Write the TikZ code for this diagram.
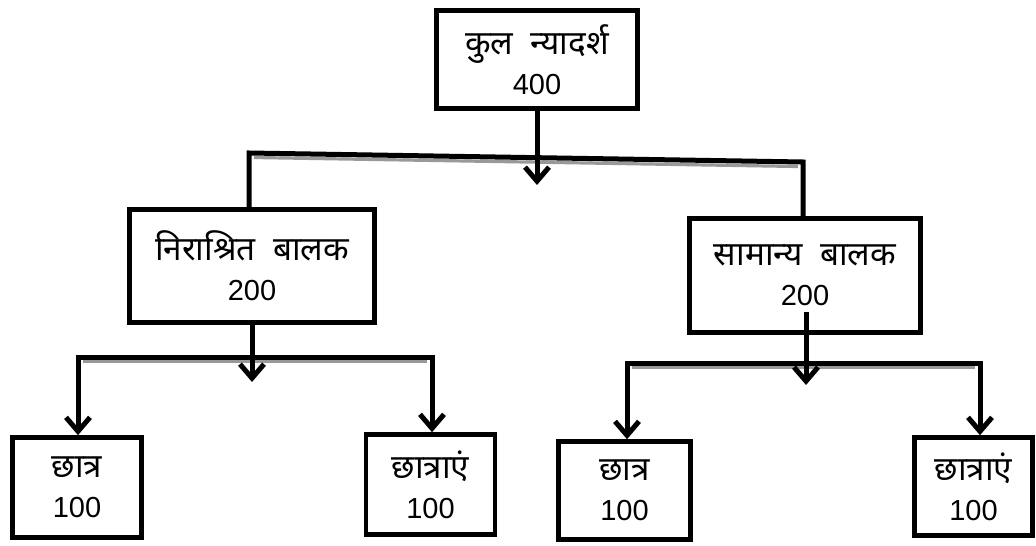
\documentclass[tikz,border=0pt]{standalone}
\usepackage{fontspec}
\setmainfont{Liberation Sans}
\newfontfamily\hindi[Script=Devanagari,Scale=1.15,WordSpace=2]{Noto Sans}
\usetikzlibrary{arrows.meta}

\begin{document}
\begin{tikzpicture}[x=0.5pt,y=-0.5pt,
    >={Straight Barb[length=7pt,width=12pt]},line width=2.5pt,
    box/.style={draw,line width=2.3pt,align=center,inner sep=0pt,
      font=\fontsize{14.5}{20}\selectfont},
    shade/.style={line width=1.6pt,black!40}]

    \useasboundingbox (0,0) rectangle (1036,545);

    % boxes
    \node[box,minimum width=100.5pt,minimum height=49pt]   (top)  at (537,59.5)    {{\hindi कुल न्यादर्श}\\400};
    \node[box,minimum width=122.5pt,minimum height=56.5pt] (lmid) at (252,266)     {{\hindi निराश्रित बालक}\\200};
    \node[box,minimum width=115.5pt,minimum height=57pt]   (rmid) at (805,275.5)   {{\hindi सामान्य बालक}\\200};
    \node[box,minimum width=64.5pt,minimum height=50pt]    (ll)   at (77,487.5)    {{\hindi छात्र}\\100};
    \node[box,minimum width=64.5pt,minimum height=50pt]    (lr)   at (430.5,484.5) {{\hindi छात्राएं}\\100};
    \node[box,minimum width=66pt,minimum height=49pt]      (rl)   at (624.5,490.5) {{\hindi छात्र}\\100};
    \node[box,minimum width=59pt,minimum height=49pt]      (rr)   at (973.5,486.5) {{\hindi छात्राएं}\\100};

    % bar corners
    \coordinate (tbL) at (249,153);
    \coordinate (tbR) at (803,162);
    \coordinate (lbL) at (78,357);
    \coordinate (lbR) at (432,357);
    \coordinate (rbL) at (627,363);
    \coordinate (rbR) at (980,363);
    \coordinate (rmidout) at (806,312);

    % shadows under bars
    \draw[shade] (254,157.5) -- (798,166.5);
    \draw[shade] (83,361.5) -- (427,361.5);
    \draw[shade] (632,367.5) -- (975,367.5);

    % bars
    \draw (tbL |- lmid.north) -- (tbL) -- (tbR) -- (tbR |- rmid.north);
    \draw[<->] (lbL |- ll.north) -- (lbL) -- (lbR) -- (lbR |- lr.north);
    \draw[<->] (rbL |- rl.north) -- (rbL) -- (rbR) -- (rbR |- rr.north);

    % stems
    \draw[->] (top.south) -- (537,185);
    \draw[->] (lmid.south) -- (252,382);
    \draw[->] (rmidout) -- (806,385);
\end{tikzpicture}
\end{document}
